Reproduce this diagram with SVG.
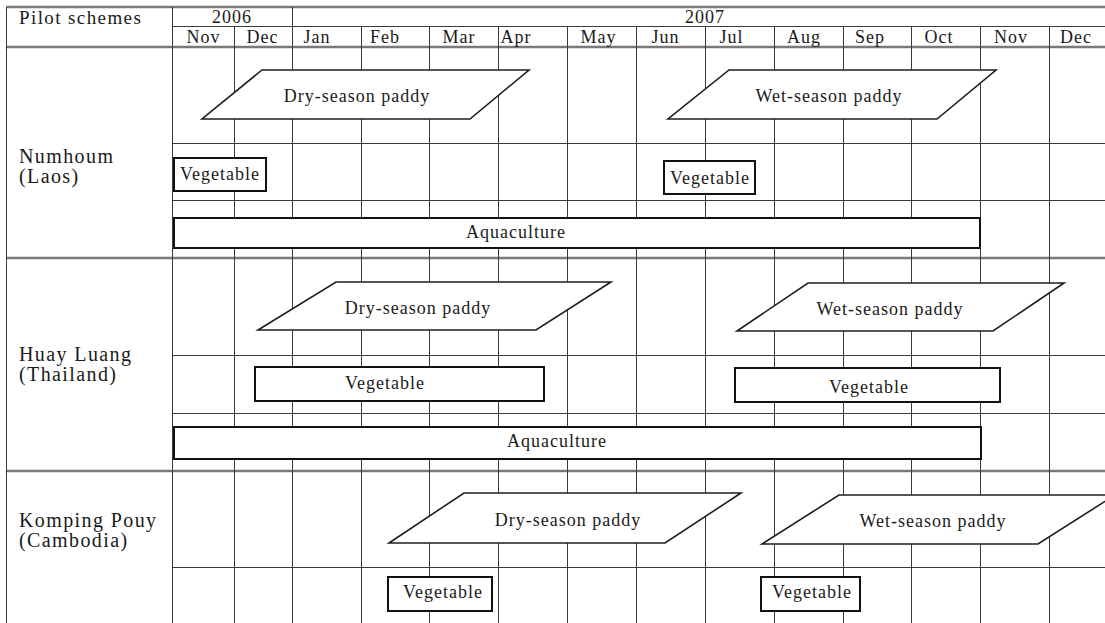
<svg xmlns="http://www.w3.org/2000/svg" width="1105" height="623" viewBox="0 0 1105 623">
<style>
.grid{stroke:#3a3a3a;stroke-width:1;fill:none}
.sep{stroke:#7a7a7a;stroke-width:2.5;fill:none}
.box{fill:#fff;stroke:#111;stroke-width:2}
.para{fill:#fff;stroke:#1e1e1e;stroke-width:1.6;stroke-linejoin:miter}
.t{font-family:"Liberation Serif","Times New Roman",serif;font-size:18px;fill:#1a1a1a;letter-spacing:1px}
.c{text-anchor:middle}
.lbl{font-size:20px;letter-spacing:1.4px}
</style>
<rect x="0" y="0" width="1105" height="623" fill="#fff"/>
<g id="grid">
  <line class="sep" x1="6" y1="7" x2="1105" y2="7"/>
  <line class="grid" x1="172" y1="26.5" x2="1105" y2="26.5"/>
  <line class="sep" x1="6" y1="47" x2="1105" y2="47"/>
  <line class="sep" x1="6" y1="258" x2="1105" y2="258"/>
  <line class="sep" x1="6" y1="471" x2="1105" y2="471"/>
  <line class="grid" x1="172" y1="143.5" x2="1105" y2="143.5"/>
  <line class="grid" x1="172" y1="200.5" x2="1105" y2="200.5"/>
  <line class="grid" x1="172" y1="355.5" x2="1105" y2="355.5"/>
  <line class="grid" x1="172" y1="413.5" x2="1105" y2="413.5"/>
  <line class="grid" x1="172" y1="567.5" x2="1105" y2="567.5"/>
  <line class="grid" x1="6.5" y1="7" x2="6.5" y2="623"/>
  <line class="grid" x1="172.5" y1="7" x2="172.5" y2="623"/>
  <line class="grid" x1="234.5" y1="26" x2="234.5" y2="623"/>
  <line class="grid" x1="292.5" y1="7" x2="292.5" y2="623"/>
  <line class="grid" x1="361.5" y1="26" x2="361.5" y2="623"/>
  <line class="grid" x1="429.5" y1="26" x2="429.5" y2="623"/>
  <line class="grid" x1="498.5" y1="26" x2="498.5" y2="623"/>
  <line class="grid" x1="567.5" y1="26" x2="567.5" y2="623"/>
  <line class="grid" x1="636.5" y1="26" x2="636.5" y2="623"/>
  <line class="grid" x1="705.5" y1="26" x2="705.5" y2="623"/>
  <line class="grid" x1="774.5" y1="26" x2="774.5" y2="623"/>
  <line class="grid" x1="843.5" y1="26" x2="843.5" y2="623"/>
  <line class="grid" x1="911.5" y1="26" x2="911.5" y2="623"/>
  <line class="grid" x1="980.5" y1="26" x2="980.5" y2="623"/>
  <line class="grid" x1="1049.5" y1="26" x2="1049.5" y2="623"/>
</g>
<g id="header">
  <text class="t" x="19" y="24" style="font-size:19px;letter-spacing:1.4px">Pilot schemes</text>
  <text class="t c" x="232" y="23">2006</text>
  <text class="t c" x="705" y="23">2007</text>
  <text class="t c" x="203.5" y="43">Nov</text>
  <text class="t c" x="262.5" y="43">Dec</text>
  <text class="t c" x="317" y="43">Jan</text>
  <text class="t c" x="385" y="43">Feb</text>
  <text class="t c" x="459" y="43">Mar</text>
  <text class="t c" x="516" y="43">Apr</text>
  <text class="t c" x="598.5" y="43">May</text>
  <text class="t c" x="665.5" y="43">Jun</text>
  <text class="t c" x="731.5" y="43">Jul</text>
  <text class="t c" x="804" y="43">Aug</text>
  <text class="t c" x="870" y="43">Sep</text>
  <text class="t c" x="939" y="43">Oct</text>
  <text class="t c" x="1011" y="43">Nov</text>
  <text class="t c" x="1076" y="43">Dec</text>
</g>
<g id="site-numhoum">
  <text class="t lbl" x="19" y="163">Numhoum</text>
  <text class="t lbl" x="19" y="183">(Laos)</text>
</g>
<g id="site-huayluang">
  <text class="t lbl" x="19" y="361">Huay Luang</text>
  <text class="t lbl" x="19" y="381">(Thailand)</text>
</g>
<g id="site-kompingpouy">
  <text class="t lbl" x="19" y="527">Komping Pouy</text>
  <text class="t lbl" x="19" y="547">(Cambodia)</text>
</g>
<g id="n-dry">
  <polygon class="para" points="262,70 529,70 470,119 202,119"/>
  <text class="t c" x="357" y="102">Dry-season paddy</text>
</g>
<g id="n-wet">
  <polygon class="para" points="729,70 996,70 937,119 668,119"/>
  <text class="t c" x="829" y="102">Wet-season paddy</text>
</g>
<g id="n-veg1">
  <rect class="box" x="174" y="158" width="92" height="33"/>
  <text class="t c" x="220" y="180">Vegetable</text>
</g>
<g id="n-veg2">
  <rect class="box" x="664" y="161" width="91" height="33"/>
  <text class="t c" x="710" y="184">Vegetable</text>
</g>
<g id="n-aqua">
  <rect class="box" x="174" y="218" width="806" height="30"/>
  <text class="t c" x="516" y="238">Aquaculture</text>
</g>
<g id="h-dry">
  <polygon class="para" points="336,282 611,282 536,330 258,330"/>
  <text class="t c" x="418" y="314">Dry-season paddy</text>
</g>
<g id="h-wet">
  <polygon class="para" points="808,283 1064,283 993,331 737,331"/>
  <text class="t c" x="890" y="315">Wet-season paddy</text>
</g>
<g id="h-veg1">
  <rect class="box" x="255" y="367" width="289" height="34"/>
  <text class="t c" x="385" y="389">Vegetable</text>
</g>
<g id="h-veg2">
  <rect class="box" x="735" y="368" width="265" height="34"/>
  <text class="t c" x="869" y="393">Vegetable</text>
</g>
<g id="h-aqua">
  <rect class="box" x="174" y="427" width="807" height="32"/>
  <text class="t c" x="557" y="447">Aquaculture</text>
</g>
<g id="k-dry">
  <polygon class="para" points="464,493 741,493 665,543 389,543"/>
  <text class="t c" x="568" y="526">Dry-season paddy</text>
</g>
<g id="k-wet">
  <polygon class="para" points="839,495 1115,495 1038,544 762,544"/>
  <text class="t c" x="933" y="527">Wet-season paddy</text>
</g>
<g id="k-veg1">
  <rect class="box" x="388" y="577" width="104" height="34"/>
  <text class="t c" x="443" y="598">Vegetable</text>
</g>
<g id="k-veg2">
  <rect class="box" x="761" y="577" width="99" height="34"/>
  <text class="t c" x="812" y="598">Vegetable</text>
</g>
</svg>
